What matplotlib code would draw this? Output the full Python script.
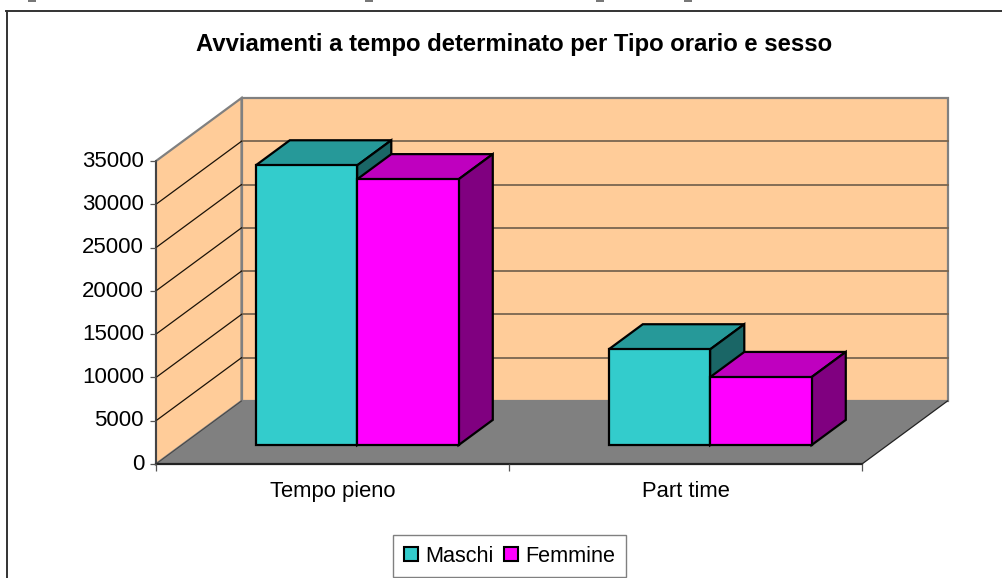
import matplotlib
matplotlib.use("Agg")
import matplotlib.pyplot as plt
from matplotlib.patches import Polygon, Patch, Rectangle
from matplotlib.lines import Line2D
from matplotlib.transforms import ScaledTranslation

plt.rcParams['font.family'] = ['Liberation Sans', 'DejaVu Sans']

# --- data ---
categories = ["Tempo pieno", "Part time"]
maschi = [32300, 11050]
femmine = [30700, 7850]
y_ticks = [0, 5000, 10000, 15000, 20000, 25000, 30000, 35000]
title = "Avviamenti a tempo determinato per Tipo orario e sesso"
series_names = ["Maschi", "Femmine"]

W, H = 1002, 578
fig = plt.figure(figsize=(W / 100, H / 100), dpi=100, facecolor="white")

# page frame (clipped at right and bottom) and leftover descenders of the line above
fig.add_artist(Line2D([6.5 / W, 6.5 / W], [0, 1 - 11 / H], color="#333333", lw=1.4))
fig.add_artist(Line2D([6 / W, 1], [1 - 11 / H, 1 - 11 / H], color="#333333", lw=1.4))
for px in (28, 365, 596, 684):
    fig.add_artist(Rectangle((px / W, 1 - 2 / H), 8 / W, 2 / H, color="#777777", lw=0))

# front plane of the oblique box is the axes itself
ax = fig.add_axes([156 / W, 1 - 464 / H, 706 / W, 303 / H])
ax.set_xlim(0, 2)
ax.set_ylim(0, 35000)
ax.patch.set_visible(False)
for s in ax.spines.values():
    s.set_visible(False)

DX = 85.5 / 353      # depth shift in category units
DY = 63 / 303 * 35000  # depth shift in value units


def pr(x, v, d):
    return (x + d * DX, v + d * DY)


def poly(pts, **kw):
    p = Polygon([pr(*q) for q in pts], closed=True, clip_on=False, **kw)
    ax.add_patch(p)


top = y_ticks[-1]
WALL = "#FFCC99"
GREY = "#808080"
# back wall, side wall, floor
poly([(0, 0, 1), (2, 0, 1), (2, top, 1), (0, top, 1)], fc=WALL, ec=GREY, lw=1.6, zorder=1)
poly([(0, 0, 0), (0, 0, 1), (0, top, 1), (0, top, 0)], fc=WALL, ec=GREY, lw=1.6, zorder=1.1)
poly([(0, 0, 0), (2, 0, 0), (2, 0, 1), (0, 0, 1)], fc=GREY, ec="none", zorder=1.2)

# gridlines
for v in y_ticks[1:-1]:
    x0, y0 = pr(0, v, 1)
    x1, y1 = pr(2, v, 1)
    ax.plot([x0, x1], [y0, y1], color="#7A6650", lw=1.3, zorder=1.3, clip_on=False)
    x2, y2 = pr(0, v, 0)
    ax.plot([x2, x0], [y2, y0], color="#1A1208", lw=0.9, zorder=1.3, clip_on=False)
# floor edges
a, b = pr(2, 0, 0), pr(2, 0, 1)
ax.plot([a[0], b[0]], [a[1], b[1]], color="#222222", lw=0.9, zorder=1.4, clip_on=False)
ax.plot([0, 2], [0, 0], color="#222222", lw=1.6, zorder=1.5, clip_on=False)
ax.plot([0, 0], [0, top], color="#333333", lw=1.1, zorder=1.5, clip_on=False)
c, d_ = pr(0, 0, 0), pr(0, 0, 1)
ax.plot([c[0], d_[0]], [c[1], d_[1]], color="#444444", lw=0.7, zorder=1.4, clip_on=False)

# bars
BW = 0.2875
D0, D1 = 0.30, 0.70
GROUP_SHIFT = -0.003
styles = [("#33CCCC", "#269999", "#1A6666"), ("#FF00FF", "#BF00BF", "#800080")]
z = 2
for i in range(len(categories)):
    for j, vals in enumerate((maschi, femmine)):
        xl = i + 0.5 + GROUP_SHIFT - BW + j * BW
        xr = xl + BW
        v = vals[i]
        fc, tc, sc = styles[j]
        kw = dict(ec="black", lw=1.6, joinstyle="miter")
        poly([(xl, v, D0), (xr, v, D0), (xr, v, D1), (xl, v, D1)], fc=tc, zorder=z, **kw)
        poly([(xr, 0, D0), (xr, 0, D1), (xr, v, D1), (xr, v, D0)], fc=sc, zorder=z + 0.1, **kw)
        poly([(xl, 0, D0), (xr, 0, D0), (xr, v, D0), (xl, v, D0)], fc=fc, zorder=z + 0.2, **kw)
        z += 1

# axes ticks and labels
ax.set_yticks(y_ticks)
ax.set_yticklabels([str(t) for t in y_ticks])
ax.tick_params(axis="y", length=4.3, width=0.9, pad=4.3, labelsize=16, color="#555555")
shift = ScaledTranslation(0, 1.6 / 72, fig.dpi_scale_trans)
for lab in ax.get_yticklabels():
    lab.set_transform(lab.get_transform() + shift)
ax.set_xticks([0, 1, 2])
ax.set_xticklabels([])
ax.set_xticks([0.5, 1.5], minor=True)
ax.set_xticklabels(categories, minor=True)
ax.tick_params(axis="x", which="major", length=5, width=0.9, color="#555555")
ax.tick_params(axis="x", which="minor", length=0, pad=12, labelsize=15.8)

fig.text(514.5 / W, 1 - 45 / H, title, ha="center", va="center", fontsize=17.2,
         fontweight="bold", color="black")

handles = [Patch(fc=styles[k][0], ec="black", lw=1.5, label=series_names[k]) for k in range(2)]
leg = fig.legend(handles=handles, ncol=2, loc="center", bbox_to_anchor=(509.5 / W, 1 - 556 / H),
                 fontsize=15.6, fancybox=False, framealpha=1, edgecolor=GREY,
                 handlelength=0.65, handleheight=0.65, handletextpad=0.35, columnspacing=0.45,
                 borderpad=0.5, borderaxespad=0)
leg.get_frame().set_linewidth(1.0)

fig.savefig("out.png", dpi=100)
